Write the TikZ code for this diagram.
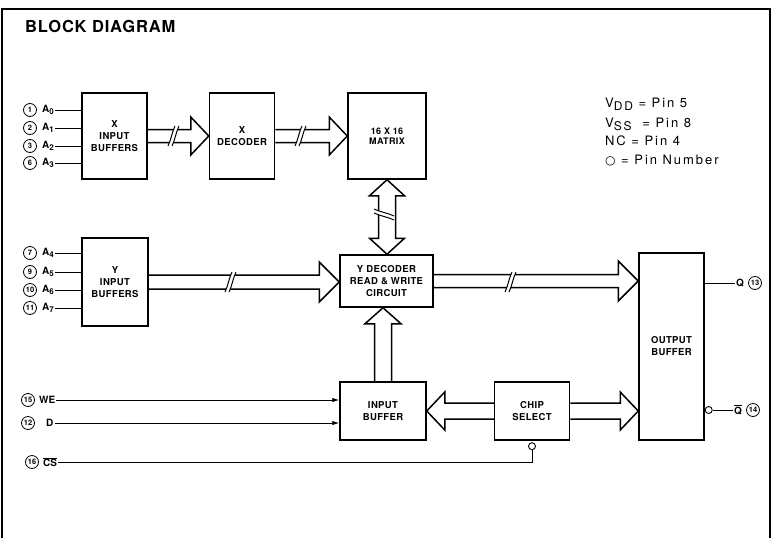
\documentclass[tikz,border=0pt]{standalone}
\usepackage{fontspec}
\setmainfont{TeX Gyre Heros}
\newfontfamily\symbolfont{DejaVu Sans}
\usetikzlibrary{arrows.meta, positioning, calc}

% hollow bus arrow: shaft half width, head half width, head length, from, to
\newcommand{\fatarrow}[5]{%
  \path #4 coordinate (fa) #5 coordinate (fb);
  \coordinate (fh) at ($(fb)!#3!(fa)$);
  \draw[fat] ($(fa)!#1!90:(fb)$) -- ($(fh)!#1!90:(fb)$) -- ($(fh)!#2!90:(fb)$) -- (fb)
    -- ($(fh)!#2!-90:(fb)$) -- ($(fh)!#1!-90:(fb)$) -- ($(fa)!#1!-90:(fb)$);
}
% hollow bus arrow with two heads
\newcommand{\fatbiarrow}[5]{%
  \path #4 coordinate (fa) #5 coordinate (fb);
  \coordinate (fg) at ($(fa)!#3!(fb)$);
  \coordinate (fh) at ($(fb)!#3!(fa)$);
  \draw[fat] (fa) -- ($(fg)!#2!90:(fb)$) -- ($(fg)!#1!90:(fb)$) -- ($(fh)!#1!90:(fb)$)
    -- ($(fh)!#2!90:(fb)$) -- (fb) -- ($(fh)!#2!-90:(fb)$) -- ($(fh)!#1!-90:(fb)$)
    -- ($(fg)!#1!-90:(fb)$) -- ($(fg)!#2!-90:(fb)$) -- cycle;
}
% break mark across a bus
\newcommand{\busbreak}[2]{%
  \begin{scope}[shift={#1}, rotate=#2]
    \fill[white] (-5,10) .. controls (-2,4) and (-1,-4) .. (2,-10) -- (6,-10)
      .. controls (3,-4) and (2,4) .. (-1,10) -- cycle;
    \draw[brk] (-5,10) .. controls (-2,4) and (-1,-4) .. (2,-10);
    \draw[brk] (-1,10) .. controls (2,4) and (3,-4) .. (6,-10);
  \end{scope}}
% address label with lowered index
\newcommand{\addr}[2]{#1\raisebox{-0.45ex}{\fontsize{8}{8}\selectfont #2}}

\begin{document}
\begin{tikzpicture}[
    x=1pt, y=-1pt,
    blk/.style={rectangle, draw=black, line width=1.5pt, align=center, inner sep=2pt,
      font=\fontsize{9.5}{12}\selectfont\bfseries\addfontfeature{LetterSpace=4}},
    pin/.style={circle, draw=black, line width=0.8pt, inner sep=0pt, minimum size=13pt,
      font=\fontsize{7.5}{8}\selectfont\bfseries},
    lbl/.style={inner sep=1pt, font=\fontsize{10}{11}\selectfont\bfseries},
    legend/.style={inner sep=0pt, font=\fontsize{13}{15}\selectfont\addfontfeature{LetterSpace=15}},
    fat/.style={line width=1.5pt, line join=miter},
    brk/.style={line width=1pt},
    sig/.style={line width=0.9pt},
    bubble/.style={circle, draw=black, line width=0.9pt, inner sep=0pt, minimum size=7pt}
]
    \useasboundingbox (0,0) rectangle (773,538);
    \draw[line width=1.2pt] (2,538) -- (2,9) -- (770,9) -- (770,538);
    \node[anchor=base west, inner sep=0pt,
      font=\fontsize{16.5}{18}\selectfont\bfseries\addfontfeature{LetterSpace=5}] (title) at (25,32) {BLOCK DIAGRAM};

    % Blocks
    \node[blk, minimum width=65pt, minimum height=86pt] (xbuf) at (114.5,136) {X\\INPUT\\BUFFERS};
    \node[blk, minimum width=65pt, minimum height=86pt, right=61pt of xbuf] (xdec) {X\\DECODER};
    \node[blk, minimum width=78pt, minimum height=86pt, right=72pt of xdec,
      font=\fontsize{9}{10.5}\selectfont\bfseries\addfontfeature{LetterSpace=4}] (matrix) {16 X 16\\MATRIX};
    \node[blk, minimum width=66pt, minimum height=88pt] (ybuf) at (115,282) {Y\\INPUT\\BUFFERS};
    \node[blk, minimum width=93pt, minimum height=52pt] (ydec) at (386.5,281) {Y DECODER\\READ \& WRITE\\CIRCUIT};
    \node[blk, minimum width=86pt, minimum height=58pt] (ibuf) at (383,411) {INPUT\\BUFFER};
    \node[blk, minimum width=75pt, minimum height=58pt, right=67pt of ibuf] (csel) {CHIP\\SELECT};
    \node[blk, minimum width=65pt, minimum height=187pt] (obuf) at (671.5,346.5) {OUTPUT\\BUFFER};

    % Legend
    \node[legend, anchor=base west] (vdd) at (605,107) {V\raisebox{-0.45ex}{\fontsize{12}{13}\selectfont DD} = Pin 5};
    \node[legend, anchor=base west] (vss) at (605,127) {V\raisebox{-0.45ex}{\fontsize{12}{13}\selectfont SS}\hspace{0.4em} = Pin 8};
    \node[legend, anchor=base west] (nc) at (605,145) {NC = Pin 4};
    \node[legend, anchor=base west] (key) at (605,164) {{\symbolfont\fontsize{12}{12}\selectfont ○} = Pin Number};

    % X address pins
    \node[pin] (p1) at (30,110) {1};
    \node[pin] (p2) at (30,128) {2};
    \node[pin] (p3) at (30,146) {3};
    \node[pin] (p6) at (30,163) {6};
    \node[lbl, right=4pt of p1] (a0) {\addr{A}{0}};
    \node[lbl, right=4pt of p2] (a1) {\addr{A}{1}};
    \node[lbl, right=4pt of p3] (a2) {\addr{A}{2}};
    \node[lbl, right=4pt of p6] (a3) {\addr{A}{3}};
    \draw[sig] (a0.east |- p1) -- (p1 -| xbuf.west);
    \draw[sig] (a1.east |- p2) -- (p2 -| xbuf.west);
    \draw[sig] (a2.east |- p3) -- (p3 -| xbuf.west);
    \draw[sig] (a3.east |- p6) -- (p6 -| xbuf.west);

    % Y address pins
    \node[pin] (p7) at (30,253) {7};
    \node[pin] (p9) at (30,272) {9};
    \node[pin] (p10) at (30,290) {10};
    \node[pin] (p11) at (30,308) {11};
    \node[lbl, right=4pt of p7] (a4) {\addr{A}{4}};
    \node[lbl, right=4pt of p9] (a5) {\addr{A}{5}};
    \node[lbl, right=4pt of p10] (a6) {\addr{A}{6}};
    \node[lbl, right=4pt of p11] (a7) {\addr{A}{7}};
    \draw[sig] (a4.east |- p7) -- (p7 -| ybuf.west);
    \draw[sig] (a5.east |- p9) -- (p9 -| ybuf.west);
    \draw[sig] (a6.east |- p10) -- (p10 -| ybuf.west);
    \draw[sig] (a7.east |- p11) -- (p11 -| ybuf.west);

    % Control pins
    \node[pin] (p15) at (28,400) {15};
    \node[pin] (p12) at (28,423) {12};
    \node[pin] (p16) at (32,462) {16};
    \node[lbl, right=3pt of p15] (we) {WE};
    \node[lbl, right=10pt of p12] (din) {D};
    \node[lbl, right=3pt of p16] (cs) {$\overline{\hbox{CS}}$};
    \draw[sig, -{Latex[length=7pt,width=4.5pt]}] (we.east |- p15) -- (p15 -| ibuf.west);
    \draw[sig, -{Latex[length=7pt,width=4.5pt]}] (din.east |- p12) -- (p12 -| ibuf.west);
    \node[bubble, below=1.5pt of csel] (csbub) {};
    \draw[sig] (cs.east |- p16) -| (csbub.south);

    % Outputs
    \node[pin] (p13) at (755,283) {13};
    \node[pin] (p14) at (753,410) {14};
    \node[lbl, left=3pt of p13] (q) {Q};
    \node[lbl, left=3pt of p14] (qn) {$\overline{\hbox{Q}}$};
    \node[bubble, anchor=west] (qbub) at (obuf.east |- p14) {};
    \draw[sig] (q.west |- p13) -- (p13 -| obuf.east);
    \draw[sig] (qbub.east) -- (qn.west |- p14);

    % Buses
    \fatarrow{6.5pt}{19pt}{18pt}{(xbuf.east)}{(xdec.west)}
    \fatarrow{6.5pt}{19pt}{18pt}{(xdec.east)}{(matrix.west)}
    \fatarrow{7pt}{20pt}{20pt}{(ybuf.east)}{(ybuf.east -| ydec.west)}
    \fatarrow{6.5pt}{20pt}{20pt}{(ydec.east)}{(ydec.east -| obuf.west)}
    \fatarrow{8pt}{19pt}{18pt}{(csel.east)}{(csel.east -| obuf.west)}
    \fatarrow{8pt}{19pt}{18pt}{(csel.west)}{(ibuf.east)}
    \fatarrow{8.5pt}{18pt}{16pt}{(ibuf.north)}{(ibuf.north |- ydec.south)}
    \fatbiarrow{8.5pt}{17.5pt}{16pt}{(matrix.south)}{(matrix.south |- ydec.north)}

    % Break marks
    \busbreak{(173,136)}{0}
    \busbreak{(300,136)}{0}
    \busbreak{(230,282)}{0}
    \busbreak{(510,282)}{0}
    \busbreak{(384,215)}{90}
\end{tikzpicture}
\end{document}
